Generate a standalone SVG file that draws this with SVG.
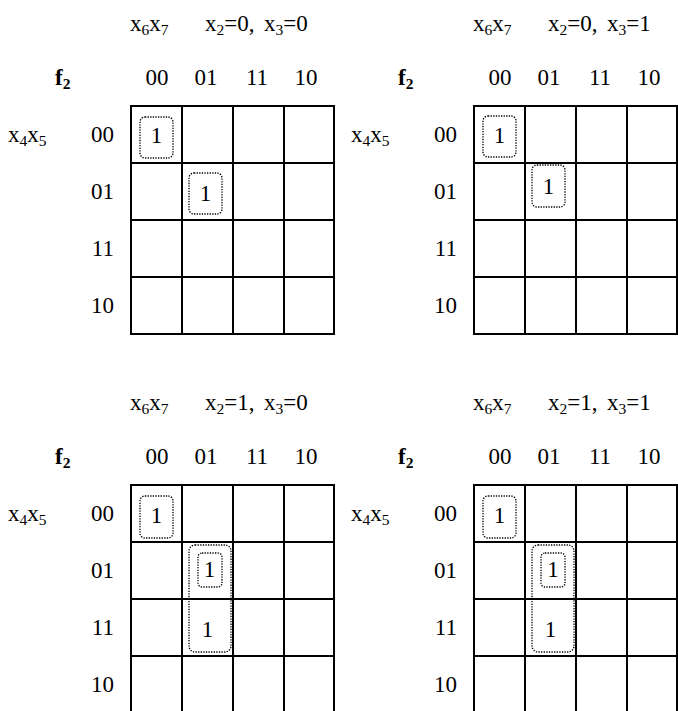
<svg xmlns="http://www.w3.org/2000/svg" width="678" height="711" viewBox="0 0 678 711">
<style>
text{font-family:"Liberation Serif","Times New Roman",serif;font-size:23px;fill:#000}
.sub{font-size:15.5px}
.b{font-weight:bold}
.mid{text-anchor:middle}
.end{text-anchor:end}
.grid{fill:none;stroke:#000;stroke-width:2}
.loop{fill:none;stroke:#000;stroke-width:1.3;stroke-dasharray:1.3 1.3}
</style>
<rect width="678" height="711" fill="#fff"/>
<defs>
<g id="kmap">
<rect class="grid" x="131" y="106" width="203" height="228"/>
<path class="grid" d="M182 106V334M233 106V334M284 106V334M131 163H334M131 220H334M131 277H334"/>
<text class="b" x="55" y="85">f<tspan class="sub" dy="4">2</tspan></text>
<text x="130" y="31">x<tspan class="sub" dy="4">6</tspan><tspan dy="-4">x</tspan><tspan class="sub" dy="4">7</tspan></text>
<text class="mid" x="157" y="85">00</text>
<text class="mid" x="206" y="85">01</text>
<text class="mid" x="257" y="85">11</text>
<text class="mid" x="306" y="85">10</text>
<text x="8" y="142">x<tspan class="sub" dy="4">4</tspan><tspan dy="-4">x</tspan><tspan class="sub" dy="4">5</tspan></text>
<text class="end" x="114" y="142">00</text>
<text class="end" x="114" y="199">01</text>
<text class="end" x="114" y="256">11</text>
<text class="end" x="114" y="313">10</text>
</g>
</defs>
<g id="map-x2-0-x3-0">
<use href="#kmap"/>
<text x="205" y="31">x<tspan class="sub" dy="4">2</tspan><tspan dy="-4">=0,</tspan><tspan x="264">x</tspan><tspan class="sub" dy="4">3</tspan><tspan dy="-4">=0</tspan></text>
<rect class="loop" x="140" y="117" width="33" height="41" rx="5"/>
<text class="mid" x="156.5" y="143">1</text>
<rect class="loop" x="189" y="173" width="33" height="41" rx="5"/>
<text class="mid" x="205.5" y="201">1</text>
</g>
<g id="map-x2-0-x3-1" transform="translate(343,0)">
<use href="#kmap"/>
<text x="205" y="31">x<tspan class="sub" dy="4">2</tspan><tspan dy="-4">=0,</tspan><tspan x="264">x</tspan><tspan class="sub" dy="4">3</tspan><tspan dy="-4">=1</tspan></text>
<rect class="loop" x="140" y="116" width="33" height="41" rx="5"/>
<text class="mid" x="156.5" y="143">1</text>
<rect class="loop" x="189" y="165" width="33" height="42" rx="5"/>
<text class="mid" x="205.5" y="194">1</text>
</g>
<g id="map-x2-1-x3-0" transform="translate(0,379)">
<use href="#kmap"/>
<text x="205" y="31">x<tspan class="sub" dy="4">2</tspan><tspan dy="-4">=1,</tspan><tspan x="264">x</tspan><tspan class="sub" dy="4">3</tspan><tspan dy="-4">=0</tspan></text>
<rect class="loop" x="140" y="117" width="33" height="42" rx="5"/>
<text class="mid" x="156.5" y="144">1</text>
<rect class="loop" x="189" y="166" width="42" height="107" rx="6"/>
<rect class="loop" x="198" y="174" width="24" height="34" rx="4"/>
<text class="mid" x="209.5" y="198">1</text>
<text class="mid" x="207.5" y="258">1</text>
</g>
<g id="map-x2-1-x3-1" transform="translate(343,379)">
<use href="#kmap"/>
<text x="205" y="31">x<tspan class="sub" dy="4">2</tspan><tspan dy="-4">=1,</tspan><tspan x="264">x</tspan><tspan class="sub" dy="4">3</tspan><tspan dy="-4">=1</tspan></text>
<rect class="loop" x="140" y="117" width="33" height="42" rx="5"/>
<text class="mid" x="156.5" y="144">1</text>
<rect class="loop" x="189" y="166" width="42" height="107" rx="6"/>
<rect class="loop" x="198" y="174" width="24" height="34" rx="4"/>
<text class="mid" x="210" y="198">1</text>
<text class="mid" x="207.5" y="258">1</text>
</g>
<g id="connectors"/>
</svg>
